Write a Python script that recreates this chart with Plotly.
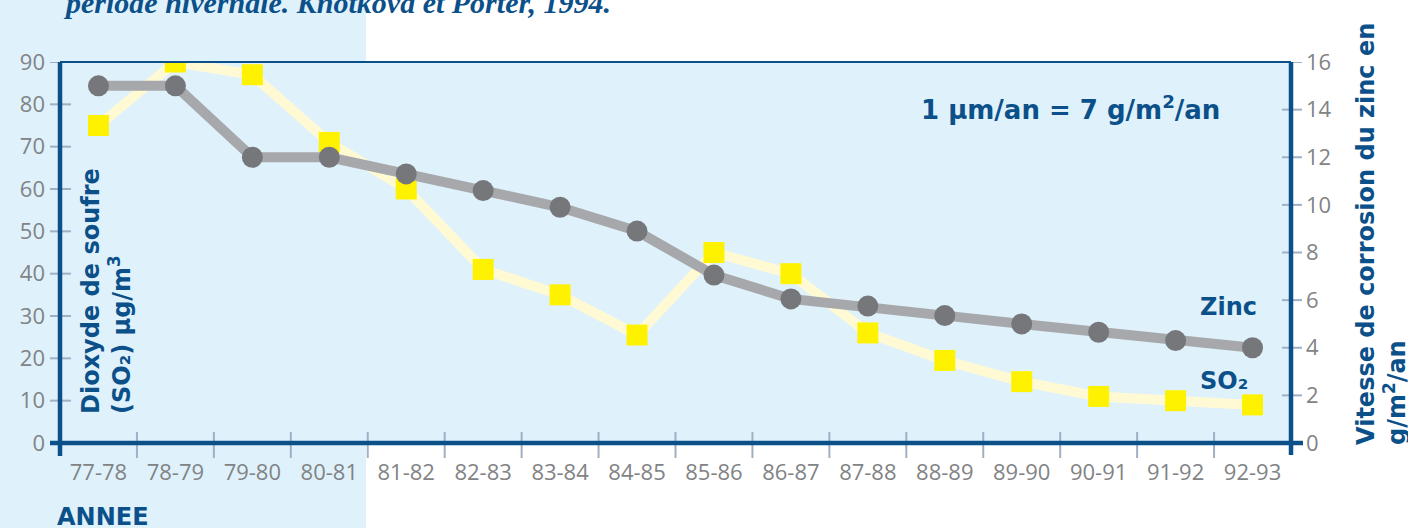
import plotly.graph_objects as go

# Data
annees = ["77-78", "78-79", "79-80", "80-81", "81-82", "82-83", "83-84", "84-85",
          "85-86", "86-87", "87-88", "88-89", "89-90", "90-91", "91-92", "92-93"]
so2 = [75, 90, 87, 71, 60, 41, 35, 25.5, 45, 40, 26, 19.5, 14.5, 11, 10, 9]
zinc = [15, 15, 12, 12, 11.3, 10.6, 9.9, 8.9, 7.05, 6.05, 5.75, 5.35, 5.0, 4.65, 4.3, 4.0]
ticks_so2 = list(range(0, 91, 10))
ticks_zinc = list(range(0, 17, 2))

W, H = 1408, 528
L, R, T, B = 60, 117, 62, 85
PW, PH = W - L - R, H - T - B

BLUE = "#0b5089"
LIGHT = "#dff1fb"
TICK = "#9fb0c4"
GREY_TXT = "#818385"
FONT = "DejaVu Sans"


# pixel -> paper helpers for decoration
def px(x):
    return (x - L) / PW


def py(y):
    return (T + PH - y) / PH


fig = go.Figure()

# SO2 series
fig.add_trace(
    go.Scatter(
        x=annees, y=so2, mode="lines+markers", name="SO2",
        line=dict(color="#fffad4", width=10),
        marker=dict(symbol="square", size=21, color="#fff200"),
        yaxis="y",
    )
)

# Zinc corrosion series
fig.add_trace(
    go.Scatter(
        x=annees, y=zinc, mode="lines+markers", name="Zinc",
        line=dict(color="#a6a8ab", width=10),
        marker=dict(symbol="circle", size=21, color="#76777a"),
        yaxis="y2",
    )
)

shapes = []
# light blue panel on the left
shapes.append(dict(type="rect", xref="paper", yref="paper", x0=px(0), x1=px(366),
                   y0=py(H), y1=py(0), fillcolor=LIGHT, line_width=0, layer="below"))

# tick marks
for v in ticks_so2[1:]:
    shapes.append(dict(type="line", xref="paper", yref="y", x0=px(50), x1=px(71),
                       y0=v, y1=v, line=dict(color=TICK, width=2)))
for v in ticks_zinc[1:]:
    shapes.append(dict(type="line", xref="paper", yref="y2", x0=px(1282), x1=px(1302),
                       y0=v, y1=v, line=dict(color=TICK, width=2)))
for k in range(len(annees) - 1):
    shapes.append(dict(type="line", xref="x", yref="paper", x0=k + 0.5, x1=k + 0.5,
                       y0=py(458), y1=py(432), line=dict(color=TICK, width=2)))

# axis lines
shapes.append(dict(type="line", xref="paper", yref="paper", x0=px(60), x1=px(1291),
                   y0=1, y1=1, line=dict(color=BLUE, width=2)))
shapes.append(dict(type="line", xref="paper", yref="paper", x0=px(60), x1=px(60),
                   y0=py(456), y1=1, line=dict(color=BLUE, width=4.5)))
shapes.append(dict(type="line", xref="paper", yref="paper", x0=px(1291), x1=px(1291),
                   y0=py(455), y1=1, line=dict(color=BLUE, width=4.5)))
shapes.append(dict(type="line", xref="paper", yref="paper", x0=px(50), x1=px(1303),
                   y0=0, y1=0, line=dict(color=BLUE, width=4.5)))

annotations = [
    dict(text="<b><i>période hivernale. Knotková et Porter, 1994.</i></b>",
         xref="paper", yref="paper", x=px(61), y=py(3), xanchor="left", yanchor="middle",
         showarrow=False, font=dict(family="Liberation Serif", size=30, color=BLUE)),
    dict(text="<b>Dioxyde de soufre<br>(SO₂) µg/m<sup>3</sup></b>",
         xref="paper", yref="paper", x=px(106), y=py(416), xanchor="center", yanchor="bottom",
         textangle=-90, align="left", showarrow=False,
         font=dict(family=FONT, size=24, color=BLUE)),
    dict(text="<b>Vitesse de corrosion du zinc en<br>g/m<sup>2</sup>/an</b>",
         xref="paper", yref="paper", x=px(1381), y=py(447), xanchor="center", yanchor="bottom",
         textangle=-90, align="left", showarrow=False,
         font=dict(family=FONT, size=24, color=BLUE)),
    dict(text="<b>1 µm/an = 7 g/m<sup>2</sup>/an</b>",
         xref="paper", yref="paper", x=px(1070), y=py(108), xanchor="center", yanchor="middle",
         showarrow=False, font=dict(family=FONT, size=26, color=BLUE)),
    dict(text="<b>Zinc</b>", xref="paper", yref="paper", x=px(1228), y=py(307),
         xanchor="center", yanchor="middle", showarrow=False,
         font=dict(family=FONT, size=24, color=BLUE)),
    dict(text="<b>SO₂</b>", xref="paper", yref="paper", x=px(1224), y=py(381),
         xanchor="center", yanchor="middle", showarrow=False,
         font=dict(family=FONT, size=24, color=BLUE)),
    dict(text="<b>ANNEE</b>", xref="paper", yref="paper", x=px(55), y=py(517),
         xanchor="left", yanchor="middle", showarrow=False,
         font=dict(family=FONT, size=24, color=BLUE)),
]

fig.update_layout(
    width=W, height=H,
    margin=dict(l=L, r=R, t=T, b=B),
    paper_bgcolor="white",
    plot_bgcolor=LIGHT,
    showlegend=False,
    shapes=shapes,
    annotations=annotations,
    xaxis=dict(
        type="category", range=[-0.5, len(annees) - 0.5],
        showgrid=False, zeroline=False, showline=False,
        ticks="", ticklabelstandoff=14,
        tickfont=dict(family="Open Sans", size=22, color=GREY_TXT),
    ),
    yaxis=dict(
        range=[0, 90], tickvals=ticks_so2,
        showgrid=False, zeroline=False, showline=False,
        ticks="", ticklabelstandoff=14,
        tickfont=dict(family="Open Sans", size=22, color=GREY_TXT),
    ),
    yaxis2=dict(
        range=[0, 16], tickvals=ticks_zinc, overlaying="y", side="right",
        showgrid=False, zeroline=False, showline=False,
        ticks="", ticklabelstandoff=14,
        tickfont=dict(family="Open Sans", size=22, color=GREY_TXT),
    ),
)

# remove the default page margin so the figure sits at the window's corner
fig.write_html("out.html", config={"displayModeBar": False},
               post_script="document.body.style.margin='0';")
